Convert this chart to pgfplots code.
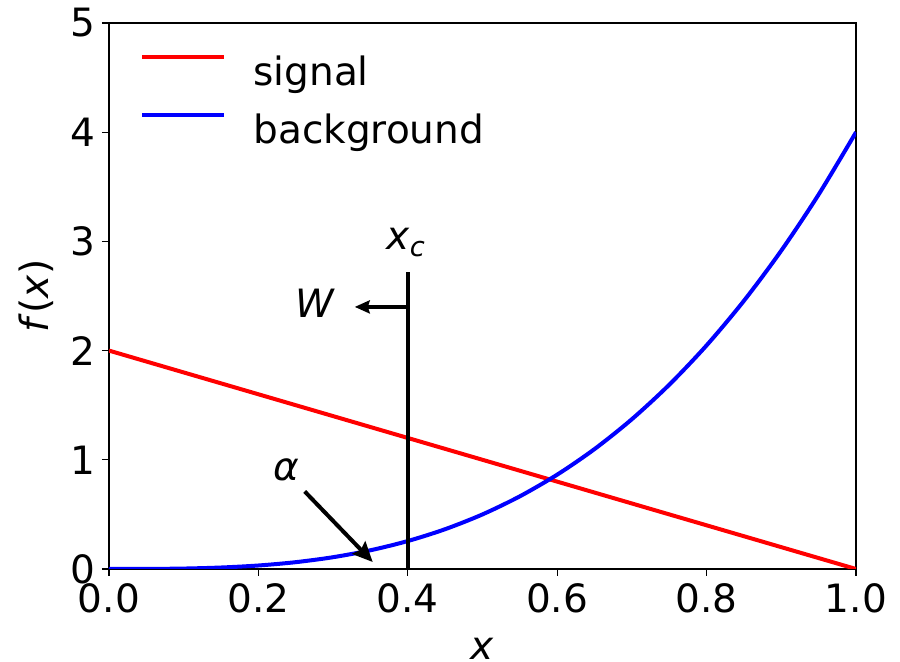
\documentclass[border=0pt]{standalone}
\usepackage{fontspec}
\setmainfont{DejaVu Sans}
\usepackage{pgfplots}
\pgfplotsset{compat=1.18}
\usetikzlibrary{arrows.meta}
\newcommand{\fs}{\fontsize{19.5}{23}\selectfont}
\begin{document}
\begin{tikzpicture}
\useasboundingbox (-54.5pt,-46.5pt) rectangle (395.5pt,284.5pt);
\begin{axis}[
  scale only axis,
  width=373.5pt, height=273pt,
  xmin=0, xmax=1, ymin=0, ymax=5,
  xtick={0,0.2,0.4,0.6,0.8,1.0},
  ytick={0,1,2,3,4,5},
  xticklabel style={/pgf/number format/.cd, fixed, fixed zerofill, precision=1},
  /pgf/number format/assume math mode=true,
  tick label style={font=\fs},
  tick align=outside,
  tick pos=left,
  major tick length=3.5pt,
  axis line style={line width=0.55pt},
  every tick/.style={black, line width=0.55pt},
  xlabel={\textit{x}},
  ylabel={\textit{f}(\textit{x})},
  label style={font=\fs},
  xlabel style={at={(axis description cs:0.5,0)}, anchor=center, yshift=-40pt},
  ylabel style={at={(axis description cs:0,0.5)}, anchor=center, yshift=36.5pt},
  legend cell align=left,
  legend style={draw=none, fill=none, font=\fs, at={(axis description cs:0,1)}, anchor=north west,
    xshift=12.5pt, yshift=-12pt, row sep=9pt, column sep=11.5pt},
  legend image code/.code={\draw[#1] (0pt,7.5pt) -- (41pt,7.5pt);},
]
\addplot[red, line width=2pt] coordinates {(0,2) (1,0)};
\addlegendentry{signal}
\addplot[blue, line width=2pt, smooth] coordinates {
(0,0) (0.05,0.0005) (0.1,0.004) (0.15,0.0135) (0.2,0.032) (0.25,0.0625)
(0.3,0.108) (0.35,0.1715) (0.4,0.256) (0.45,0.3645) (0.5,0.5) (0.55,0.6655)
(0.6,0.864) (0.65,1.0985) (0.7,1.372) (0.75,1.6875) (0.8,2.048) (0.85,2.4565)
(0.9,2.916) (0.95,3.4295) (1.0,4)};
\addlegendentry{background}
\addplot[black, line width=2pt, forget plot] coordinates {(0.4,0) (0.4,2.72)};
\draw[line width=1.6pt, -{Stealth[length=7.5pt, width=6.5pt, inset=1pt]}] (axis cs:0.4,2.4) -- (axis cs:0.329,2.4);
\node[font=\fs] at (axis cs:0.276,2.43) {\textit{W}};
\node[font=\fs] at (axis cs:0.398,2.99) {\textit{x\textsubscript{c}}};
\draw[line width=2pt, -{Stealth[length=10pt, width=9pt, inset=1.5pt]}] (axis cs:0.262,0.71) -- (axis cs:0.353,0.064);
\node[font=\fs] at (axis cs:0.238,0.91) {\textit{α}};
\end{axis}
\end{tikzpicture}
\end{document}
